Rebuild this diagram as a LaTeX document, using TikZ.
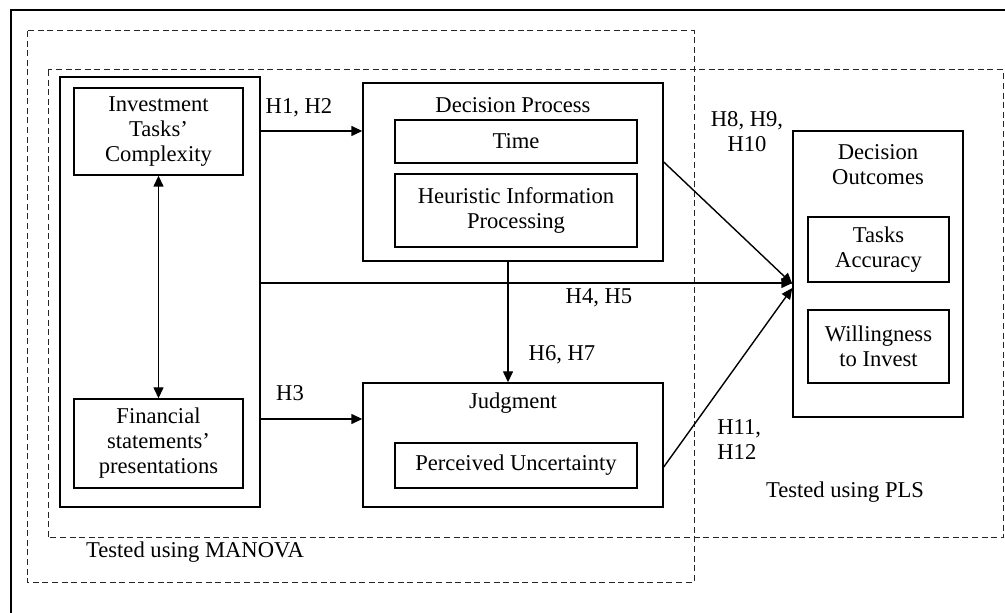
\documentclass[tikz,border=0pt]{standalone}
\usepackage{fontspec}
\setmainfont{Liberation Serif}
\usetikzlibrary{arrows.meta}
\tikzset{
  box/.style={draw, line width=0.7pt, inner sep=0pt, align=center, font=\fontsize{11.3}{12.5}\selectfont},
  lbl/.style={inner sep=0pt, align=center, font=\fontsize{11.3}{12.5}\selectfont},
  arr/.style={-{Triangle[length=5.5pt,width=5pt]}, line width=0.7pt},
  darr/.style={{Triangle[length=5.5pt,width=5pt]}-{Triangle[length=5.5pt,width=5pt]}, line width=0.7pt},
  zone/.style={dash pattern=on 3pt off 1.8pt, line width=0.5pt, draw=black!85}
}
\begin{document}
\begin{tikzpicture}[x=0.5pt,y=-0.5pt]
\useasboundingbox (0,0) rectangle (1005,613);
\clip (0,0) rectangle (1005,613);
\draw[line width=1.4pt] (11,10) rectangle (1030,640);
% test zones
\draw[zone] (27,31) rectangle (694,582);
\draw[zone] (48,70) rectangle (1003,538);
\node[lbl] (manova) at (195,552) {Tested using MANOVA};
\node[lbl] (pls) at (845,492) {Tested using PLS};
% independent variables
\node[box, minimum width=100pt, minimum height=215pt] (left) at (160,292) {};
\node[box, minimum width=84.5pt, minimum height=43.5pt] (inv) at (158.5,131.5) {Investment\\Tasks’\\Complexity};
\node[box, minimum width=84.5pt, minimum height=44.5pt] (fin) at (158.5,443.5) {Financial\\statements’\\presentations};
% decision process
\node[box, minimum width=150pt, minimum height=89pt] (proc) at (513,172) {};
\node[lbl] (proct) at (513,105) {Decision Process};
\node[box, minimum width=121pt, minimum height=21.5pt] (time) at (516,141.5) {Time};
\node[box, minimum width=121pt, minimum height=36.5pt] (heur) at (516,210.5) {Heuristic Information\\Processing};
% judgment
\node[box, minimum width=150pt, minimum height=62pt] (judg) at (513,445) {};
\node[lbl] (judgt) at (513,403) {Judgment};
\node[box, minimum width=121pt, minimum height=22.5pt] (unc) at (516,465.5) {Perceived Uncertainty};
% outcomes
\node[box, minimum width=85pt, minimum height=143pt] (outc) at (878,274) {};
\node[lbl] (outct) at (878,165) {Decision\\Outcomes};
\node[box, minimum width=70.5pt, minimum height=32.5pt] (acc) at (878.5,249.5) {Tasks\\Accuracy};
\node[box, minimum width=70.5pt, minimum height=36.5pt] (will) at (878.5,346.5) {Willingness\\to Invest};
% hypotheses
\node[lbl] (h12) at (299,108) {H1, H2};
\node[lbl] (h3) at (290,393) {H3};
\node[lbl] (h45) at (599,298) {H4, H5};
\node[lbl] (h67) at (562,355) {H6, H7};
\node[lbl] (h810) at (747,132) {H8, H9,\\H10};
\node[lbl, align=left, anchor=west] (h1112) at (717,440) {H11,\\H12};
\draw[darr] (inv.south) -- (fin.north);
\draw[arr] (left.east |- 0,131) -- (proc.west |- 0,131);
\draw[arr] (left.east |- 0,419) -- (judg.west |- 0,419);
\draw[arr] (left.east |- 0,283) -- (outc.west |- 0,283);
\draw[arr] (508,0 |- proc.south) -- (508,0 |- judg.north);
\draw[arr] (proc.east |- 0,162) -- (outc.west |- 0,284);
\draw[arr] (judg.east |- 0,467) -- (outc.west |- 0,288);
\end{tikzpicture}
\end{document}
